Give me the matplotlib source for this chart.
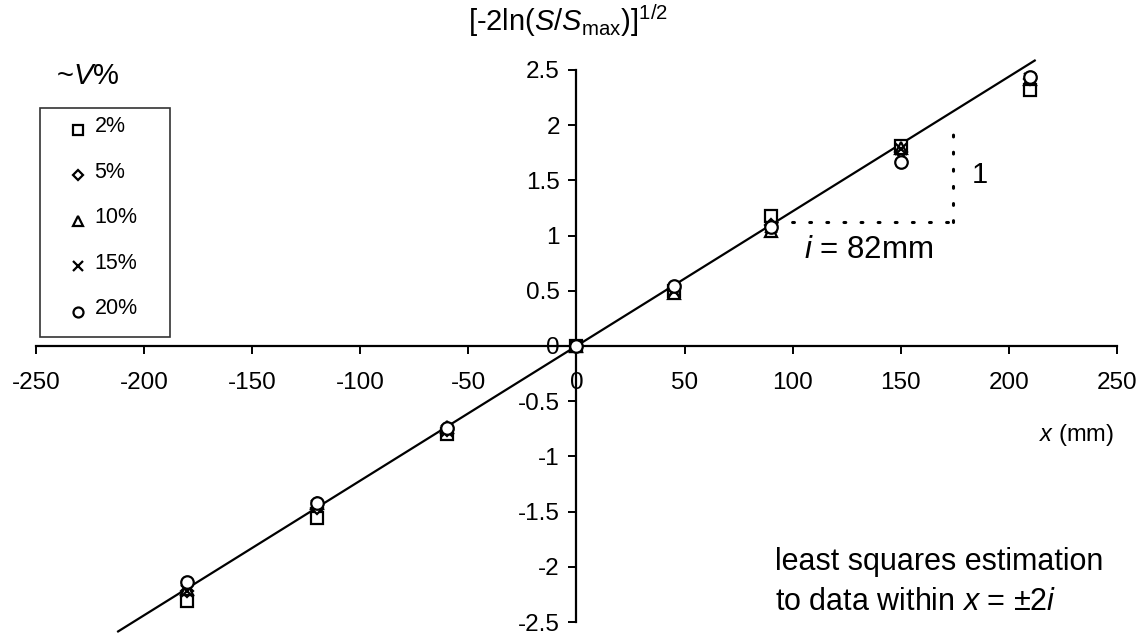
""" Gaussian profile check: [-2ln(S/Smax)]^1/2 against x """

import matplotlib
matplotlib.use("Agg")
import matplotlib.pyplot as plt

plt.rcParams['font.family'] = ['Liberation Sans', 'DejaVu Sans']
plt.rcParams['mathtext.fontset'] = 'custom'
plt.rcParams['mathtext.rm'] = 'Liberation Sans'
plt.rcParams['mathtext.it'] = 'Liberation Sans:italic'

# Data
x_pos = [-180, -120, -60, 0, 45, 90, 150, 210]
v2 = [-2.31, -1.56, -0.80, 0, 0.50, 1.18, 1.81, 2.32]
v5 = [-2.22, -1.47, -0.76, 0, 0.52, 1.10, 1.76, 2.42]
v10 = [-2.20, -1.42, -0.73, 0, 0.48, 1.04, 1.79, 2.42]
v15 = [-2.22, -1.45, -0.77, 0, 0.50, 1.08, 1.78, 2.42]
v20 = [-2.14, -1.42, -0.74, 0, 0.54, 1.08, 1.67, 2.44]
series_labels = ['2%', '5%', '10%', '15%', '20%']
series_markers = ['s', 'D', '^', 'x', 'o']

i_mm = 82  # fitted length scale
fit_x = [-212, 212]
x_ticks = [-250, -200, -150, -100, -50, 0, 50, 100, 150, 200, 250]
y_ticks = [-2.5, -2, -1.5, -1, -0.5, 0, 0.5, 1, 1.5, 2, 2.5]

fig = plt.figure(figsize=(11.42, 6.36), dpi=100)
ax = fig.add_axes([0.0315, 0.022, 0.9465, 0.868])

# fitted line y = x / i
ax.plot(fit_x, [v / i_mm for v in fit_x], color='black', lw=1.6, clip_on=False, zorder=2)

handles = []
for vals, lab, mk in zip([v2, v5, v10, v15, v20], series_labels, series_markers):
    ms = 9 if mk != 'D' else 6.5
    h, = ax.plot(x_pos, vals, linestyle='none', marker=mk, ms=ms, mfc='white' if mk != 'x' else 'black',
                 mec='black', mew=1.6, label=lab, zorder=3, clip_on=False)
    handles.append(h)

# slope triangle
x0 = 92
y0 = x0 / i_mm
ax.plot([x0, x0 + i_mm], [y0, y0], color='black', lw=2.2, linestyle=(0, (0.6, 5)), dash_capstyle='round')
ax.plot([x0 + i_mm, x0 + i_mm], [y0, 2.03], color='black', lw=2.2, linestyle=(0, (0.6, 5)),
        dash_capstyle='round')
ax.text(183, 1.55, '1', fontsize=21, ha='left', va='center')
ax.text(135, 0.87, '$i$ = 82mm', fontsize=22.5, ha='center', va='center')

ax.text(214, -0.81, '$x$ (mm)', fontsize=17, ha='left', va='center')
ax.text(92, -1.96, 'least squares estimation', fontsize=22, ha='left', va='center')
ax.text(92, -2.32, 'to data within $x$ = \u00b12$i$', fontsize=22, ha='left', va='center')

# axes through the origin
ax.set_xlim(-250, 250)
ax.set_ylim(-2.5, 2.5)
ax.spines['left'].set_position(('data', 0))
ax.spines['bottom'].set_position(('data', 0))
ax.spines['right'].set_visible(False)
ax.spines['top'].set_visible(False)
ax.spines['left'].set_linewidth(1.6)
ax.spines['bottom'].set_linewidth(1.6)
ax.set_xticks(x_ticks)
ax.set_xticklabels(['%g' % t for t in x_ticks])
ax.set_yticks(y_ticks)
ax.set_yticklabels(['%g' % t for t in y_ticks])
ax.tick_params(direction='out', length=6, width=1.4, labelsize=17.5, pad=6)
ax.tick_params(axis='x', pad=13)
ax.patch.set_alpha(0)

fig.text(0.497, 0.968, r'[-2ln($S$/$S_{\rm max}$)]$^{1/2}$', fontsize=21, ha='center', va='center')
fig.text(0.077, 0.880, r'~$V$%', fontsize=21, ha='center', va='center')

leg = ax.legend(handles=handles, loc='upper left', bbox_to_anchor=(0.035, 0.478, 0.114, 0.352),
                bbox_transform=fig.transFigure, mode='expand', fontsize=15.5,
                frameon=True, fancybox=False, edgecolor='black', labelspacing=1.14,
                handletextpad=-0.36, handlelength=2.3, borderpad=0.6, markerscale=0.8,
                borderaxespad=0)
leg.get_frame().set_linewidth(1.2)
for t in leg.get_texts():
    t.set_position((0, 5))

fig.savefig('out.png', dpi=100)
